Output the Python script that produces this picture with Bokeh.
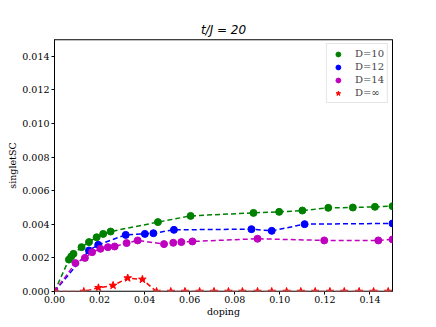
from bokeh.plotting import figure
from bokeh.models import Legend, LegendItem, FixedTicker, NumeralTickFormatter, Range1d, Span
from bokeh.embed import file_html
from bokeh.resources import INLINE

# D=10
x10 = [0, 0.0064, 0.0074, 0.0084, 0.0120, 0.0153, 0.0187, 0.0216, 0.0249, 0.0459, 0.0604, 0.0883, 0.0997, 0.1100, 0.1215, 0.1324, 0.1422, 0.1500]
y10 = [0, 0.00190, 0.00208, 0.00224, 0.00264, 0.00294, 0.00323, 0.00343, 0.00357, 0.00413, 0.00450, 0.00468, 0.00474, 0.00482, 0.00498, 0.00500, 0.00504, 0.00508]
# D=12
x12 = [0, 0.0153, 0.0194, 0.0316, 0.0401, 0.0439, 0.0530, 0.0874, 0.0964, 0.1110, 0.1500]
y12 = [0, 0.00244, 0.00278, 0.00337, 0.00343, 0.00347, 0.00367, 0.00371, 0.00361, 0.00401, 0.00405]
# D=14
x14 = [0, 0.0093, 0.0135, 0.0167, 0.0204, 0.0237, 0.0267, 0.0320, 0.0369, 0.0486, 0.0527, 0.0563, 0.0612, 0.0901, 0.1197, 0.1437, 0.1500]
y14 = [0, 0.00169, 0.00200, 0.00234, 0.00254, 0.00264, 0.00268, 0.00288, 0.00304, 0.00282, 0.00290, 0.00294, 0.00298, 0.00314, 0.00304, 0.00304, 0.00310]
# D=inf
xinf = [0, 0.0130, 0.0195, 0.0260, 0.0325, 0.0390, 0.0453, 0.0516, 0.0579, 0.0644, 0.0708, 0.0772, 0.0834, 0.0901, 0.0964, 0.1030, 0.1093, 0.1157, 0.1222, 0.1286, 0.1352, 0.1416, 0.1481]
yinf = [0, 0.0, 0.00022, 0.00036, 0.00080, 0.00072, 0, 0, 0, 0, 0, 0, 0, 0, 0, 0, 0, 0, 0, 0, 0, 0, 0]

labels = ["D=10", "D=12", "D=14", "D=\u221e"]
xticks = [0.0, 0.02, 0.04, 0.06, 0.08, 0.10, 0.12, 0.14]
yticks = [0.0, 0.002, 0.004, 0.006, 0.008, 0.010, 0.012, 0.014]

SERIF = "DejaVu Serif"

p = figure(width=436, height=327, output_backend="svg", toolbar_location=None,
           x_range=Range1d(0, 0.15), y_range=Range1d(0, 0.015),
           min_border_left=54, min_border_right=44, min_border_top=39, min_border_bottom=36,
           title="t/J = 20", x_axis_label="doping", y_axis_label="singletSC")
p.outline_line_color = "black"
p.outline_line_width = 1
p.grid.visible = False
p.background_fill_color = "white"

p.title.align = "center"
p.title.text_font = "DejaVu Sans"
p.title.text_font_style = "italic"
p.title.text_font_size = "12px"
p.title.text_color = "black"
p.title.standoff = 5

for ax, ticks, fmt in [(p.xaxis[0], xticks, "0.00"), (p.yaxis[0], yticks, "0.000")]:
    ax.ticker = FixedTicker(ticks=ticks)
    ax.formatter = NumeralTickFormatter(format=fmt)
    ax.major_label_text_font = SERIF
    ax.major_label_text_font_size = "9.5px"
    ax.major_label_text_color = "black"
    ax.axis_label_text_font = SERIF
    ax.axis_label_text_font_size = "9.5px"
    ax.axis_label_text_font_style = "normal"
    ax.axis_label_text_color = "black"
    ax.minor_tick_line_color = None
    ax.major_tick_out = 3
    ax.major_tick_in = 0
    ax.major_tick_line_color = "black"
    ax.major_tick_line_width = 1
    ax.major_label_standoff = 2
    ax.axis_label_standoff = 1
p.xaxis[0].axis_line_color = None
p.xaxis[0].major_label_standoff = 1
p.xaxis[0].axis_label_standoff = 0
p.yaxis[0].axis_line_color = "black"

p.add_layout(Span(location=0.015, dimension="width", line_color="#808080", line_width=2))
p.add_layout(Span(location=0.0, dimension="width", line_color="#808080", line_width=2))

series = [(x10, y10, "#008000", "circle", 7), (x12, y12, "#0000ff", "circle", 7),
          (x14, y14, "#bf00bf", "circle", 7), (xinf, yinf, "#ff0000", "star", 8)]
items = []
for (xs, ys, c, m, s), lab in zip(series, labels):
    p.line(xs, ys, line_color=c, line_width=1.5, line_dash="5 3")
    r = p.scatter(xs, ys, marker=m, size=s, fill_color=c, line_color=c)
    items.append(LegendItem(label=lab, renderers=[r]))

legend = Legend(items=items, location="top_right", margin=4, padding=3, spacing=0,
                label_text_font=SERIF, label_text_font_size="10px", label_height=13,
                glyph_height=12, glyph_width=16, label_standoff=9,
                border_line_color="#cccccc", border_line_width=1, background_fill_alpha=0.8)
p.add_layout(legend)

open("out.html", "w").write(file_html(p, INLINE))
